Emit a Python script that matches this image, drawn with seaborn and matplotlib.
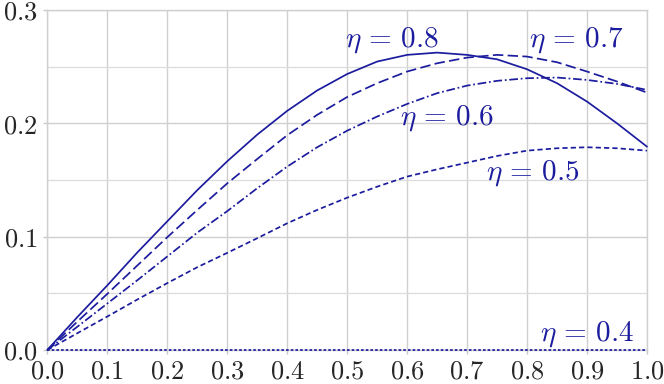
import numpy as np
import pandas as pd
import matplotlib
matplotlib.use("Agg")
import matplotlib.pyplot as plt
import seaborn as sns
from matplotlib.ticker import FuncFormatter, MultipleLocator

x_vals = [0.0, 0.05, 0.1, 0.15, 0.2, 0.25, 0.3, 0.35, 0.4, 0.45, 0.5,
          0.55, 0.6, 0.65, 0.7, 0.75, 0.8, 0.85, 0.9, 0.95, 1.0]
eta_08 = [0.0, 0.029, 0.057, 0.086, 0.1135, 0.141, 0.1665, 0.190, 0.211, 0.229, 0.2435,
          0.2545, 0.2604, 0.2624, 0.2604, 0.2565, 0.2477, 0.2354, 0.2192, 0.200, 0.1794]
eta_07 = [0.0, 0.025, 0.0495, 0.0745, 0.0995, 0.1235, 0.147, 0.1685, 0.1895, 0.2075, 0.2232,
          0.2354, 0.2457, 0.253, 0.258, 0.2604, 0.2589, 0.2539, 0.2457, 0.2369, 0.2271]
eta_06 = [0.0, 0.0205, 0.041, 0.0615, 0.0825, 0.1035, 0.1225, 0.1427, 0.1618, 0.1789, 0.1935,
          0.206, 0.2171, 0.2266, 0.2333, 0.2375, 0.2398, 0.2404, 0.2383, 0.2348, 0.2295]
eta_05 = [0.0, 0.0148, 0.0295, 0.0445, 0.059, 0.0730, 0.0857, 0.0986, 0.1118, 0.1236, 0.1344,
          0.1441, 0.153, 0.1594, 0.1653, 0.1712, 0.1759, 0.178, 0.1789, 0.178, 0.1759]
eta_04 = [0.0] * len(x_vals)

etas = ["0.8", "0.7", "0.6", "0.5", "0.4"]
series = [eta_08, eta_07, eta_06, eta_05, eta_04]

label_x = [0.574, 0.883, 0.666, 0.81, 0.90]
label_y = [0.273, 0.273, 0.205, 0.156, 0.014]

rows = []
for e, s in zip(etas, series):
    for xv, yv in zip(x_vals, s):
        rows.append({"x": xv, "y": yv, "eta": e})
df = pd.DataFrame(rows)

sns.set_style("whitegrid")
plt.rcParams["mathtext.fontset"] = "cm"
plt.rcParams["font.family"] = ["DejaVu Sans"]

color = "#1c1c9e"
fig = plt.figure(figsize=(6.64, 3.84), dpi=100)
ax = fig.add_axes([47.3 / 664, 1 - 350 / 384, (647 - 47.3) / 664, (350 - 10) / 384])

dashes = {"0.8": "", "0.7": (6, 2.5), "0.6": (5, 1.6, 1, 1.6), "0.5": (3, 1.8), "0.4": (1.5, 1.2)}
sns.lineplot(data=df, x="x", y="y", hue="eta", style="eta",
             palette={e: color for e in etas}, dashes=dashes,
             linewidth=1.25, legend=False, ax=ax, estimator=None, sort=True)
for ln in ax.get_lines():
    ln.set_clip_on(False)
    ln.set_zorder(4)

for e, lx, ly in zip(etas, label_x, label_y):
    ax.text(lx, ly, r"$\eta\,=\,%s$" % e, color=color, fontsize=21,
            ha="center", va="center")

ax.set_xlim(0, 1)
ax.set_ylim(0, 0.3)
ax.xaxis.set_major_locator(MultipleLocator(0.1))
ax.yaxis.set_major_locator(MultipleLocator(0.1))
ax.yaxis.set_minor_locator(MultipleLocator(0.05))
fmt = FuncFormatter(lambda v, p: r"$%.1f$" % v)
ax.xaxis.set_major_formatter(fmt)
ax.yaxis.set_major_formatter(fmt)
ax.grid(True, which="major", color="#d0d0d0", linewidth=1.0)
ax.grid(True, which="minor", axis="y", color="#dcdcdc", linewidth=0.9)
ax.tick_params(axis="both", which="major", labelsize=19, length=3, width=1,
               color="#c8c8c8", pad=4, left=True, bottom=True)
ax.tick_params(axis="x", which="major", pad=3)
ax.tick_params(axis="both", which="minor", length=0)
for sp in ax.spines.values():
    sp.set_color("#d0d0d0")
    sp.set_linewidth(1.0)
ax.set_xlabel("")
ax.set_ylabel("")

fig.savefig("out.png", dpi=100)
